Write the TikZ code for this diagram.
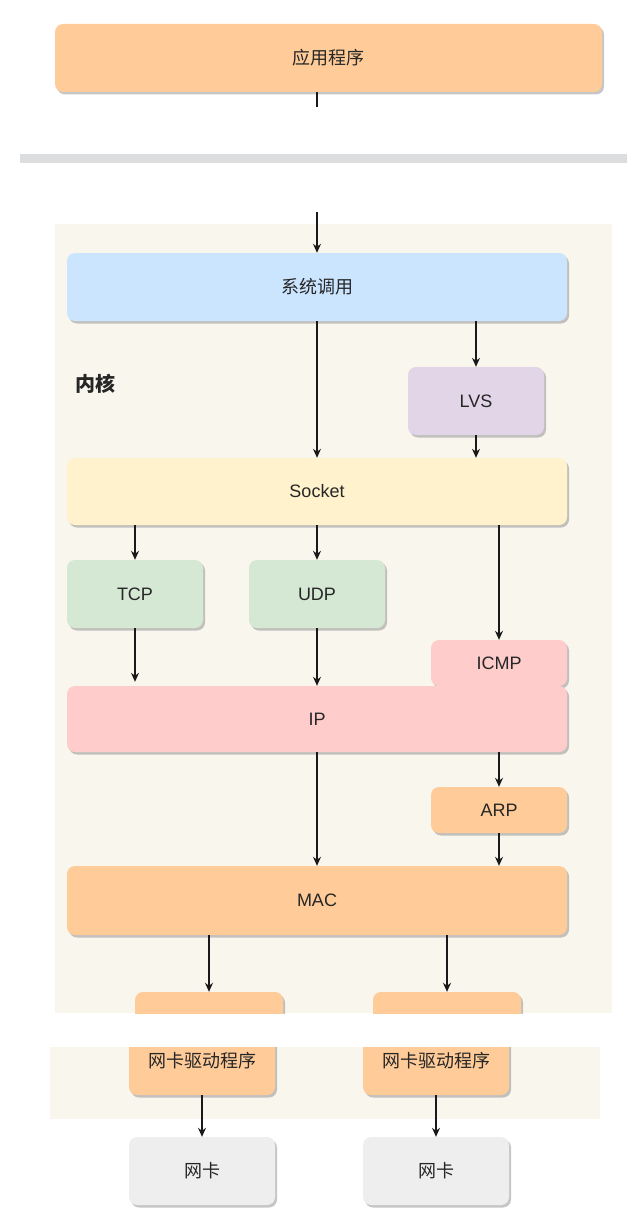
\documentclass[tikz,border=0pt]{standalone}
\usepackage{fontspec}
\setmainfont{Liberation Sans}
\newfontfamily\cjk{Noto Sans CJK SC}
\usepackage{xcolor}
\usepackage{tikz}
\usetikzlibrary{arrows.meta,calc,positioning,shadows}

\definecolor{appfill}{HTML}{FFCC99}
\definecolor{sysfill}{HTML}{CCE5FF}
\definecolor{lvsfill}{HTML}{E1D5E7}
\definecolor{sockfill}{HTML}{FFF2CC}
\definecolor{transfill}{HTML}{D5E8D4}
\definecolor{ipfill}{HTML}{FFCCCC}
\definecolor{nicfill}{HTML}{EEEEEE}
\definecolor{kernbg}{HTML}{F9F6EE}
\definecolor{sepgray}{HTML}{DCDDDF}

\begin{document}
\begin{tikzpicture}[
    x=1pt,y=-1pt,
    every node/.style={font=\fontsize{18}{21}\selectfont,align=center,text=black!85},
    box/.style={
        rounded corners=8pt,
        draw=none,
        minimum height=68pt,
        inner sep=0pt,
        drop shadow={shadow xshift=2pt,shadow yshift=-2.5pt,opacity=0.45}
    },
    wide/.style={box,minimum width=500pt},
    small/.style={box,minimum width=136pt},
    short/.style={box,minimum width=136pt,minimum height=46pt},
    arrow/.style={-{Stealth[length=9pt,width=8pt]},line width=1.1pt,black!90},
    plain/.style={line width=1.1pt,black!90}
]
\useasboundingbox (0,0) rectangle (643,1220);

% Backgrounds
\fill[kernbg] (55,224) rectangle (612,1013);
\fill[kernbg] (50,1047) rectangle (600,1119);
\fill[sepgray] (20,154) rectangle (627,163);

% User space
\node[box, fill=appfill, minimum width=547pt] (app) at (328.5,58) {\cjk 应用程序};
\coordinate (appcut) at (317,107);
\coordinate (kerncut) at (317,212);

% Kernel
\node[font=\cjk\bfseries\fontsize{20}{24}\selectfont] (kernel) at (95,384) {内核};

\node[wide, fill=sysfill] (syscall) at (317,287) {\cjk 系统调用};
\node[small, fill=lvsfill] (lvs) at (476,401) {LVS};
\node[wide, fill=sockfill, minimum height=67pt] (socket) at (317,491.5) {Socket};

\node[small, fill=transfill] (tcp) at (135,594) {TCP};
\node[small, fill=transfill] (udp) at (317,594) {UDP};
\node[short, fill=ipfill] (icmp) at (499,663) {ICMP};
\node[wide, fill=ipfill, minimum height=66pt] (ip) at (317,719) {IP};

\node[short, fill=appfill] (arp) at (499,810) {ARP};
\node[wide, fill=appfill, minimum height=69pt] (mac) at (317,900.5) {MAC};

% Drivers, cut by the kernel frame
\begin{scope}
\clip (0,224) rectangle (643,1013);
\node[box, fill=appfill, minimum width=148pt] (drvtopA) at (209,1026) {};
\node[box, fill=appfill, minimum width=148pt] (drvtopB) at (447,1026) {};
\end{scope}

\begin{scope}
\clip (0,1047) rectangle (643,1220);
\node[box, fill=appfill, minimum width=146pt] (drvA) at (202,1061) {\cjk 网卡驱动程序};
\node[box, fill=appfill, minimum width=146pt] (drvB) at (436,1061) {\cjk 网卡驱动程序};
\end{scope}

% Hardware
\node[box, fill=nicfill, minimum width=146pt] (nicA) at (202,1171) {\cjk 网卡};
\node[box, fill=nicfill, minimum width=146pt] (nicB) at (436,1171) {\cjk 网卡};

% Relations
\draw[plain] (app.south -| appcut) -- (appcut);
\draw[arrow] (kerncut) -- (kerncut |- syscall.north);
\draw[arrow] (syscall.south -| lvs) -- (lvs.north);
\draw[arrow] (syscall.south) -- (socket.north);
\draw[arrow] (lvs.south) -- (lvs.south |- socket.north);
\draw[arrow] (socket.south -| tcp) -- (tcp.north);
\draw[arrow] (socket.south -| udp) -- (udp.north);
\draw[arrow] (socket.south -| icmp) -- (icmp.north);
\draw[arrow] (tcp.south) -- ($(tcp.south |- ip.north)+(0,-4)$);
\draw[arrow] (udp.south) -- (udp.south |- ip.north);
\draw[arrow] (ip.south -| arp) -- (arp.north);
\draw[arrow] (ip.south) -- (mac.north);
\draw[arrow] (arp.south) -- (arp.south |- mac.north);
\draw[arrow] (mac.south -| drvtopA) -- (drvtopA.north);
\draw[arrow] (mac.south -| drvtopB) -- (drvtopB.north);
\draw[arrow] (drvA.south) -- (nicA.north);
\draw[arrow] (drvB.south) -- (nicB.north);

\end{tikzpicture}
\end{document}
